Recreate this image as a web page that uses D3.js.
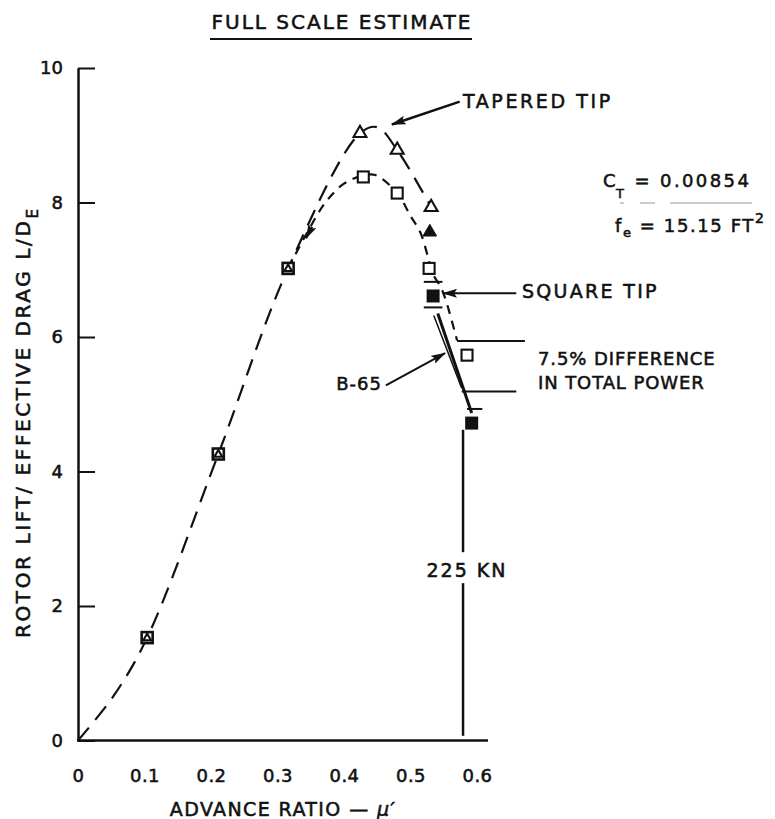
<!DOCTYPE html>
<html>
<head>
<meta charset="utf-8">
<script src="https://cdn.jsdelivr.net/npm/d3@7"></script>
<style>
  html, body { margin: 0; padding: 0; background: #fff; }
  svg { display: block; }
  text { font-family: "DejaVu Sans", sans-serif; fill: #111; stroke: #111; stroke-width: 0.55px; }
</style>
</head>
<body>
<svg id="chart" width="775" height="819"></svg>
<script>
// ---- axis ticks ----
const xTicks = [0, 0.1, 0.2, 0.3, 0.4, 0.5, 0.6];
const xTickLabels = ["0", "0.1", "0.2", "0.3", "0.4", "0.5", "0.6"];
const yTicks = [0, 2, 4, 6, 8, 10];
const yTickLabels = ["0", "2", "4", "6", "8", "10"];

// ---- measured points: [advance ratio, L/De] ----
const squareTipOpen = [[0.104, 1.53], [0.211, 4.26], [0.316, 7.02], [0.429, 8.38], [0.48, 8.14], [0.528, 7.02], [0.585, 5.73]];
const taperedTipOpen = [[0.104, 1.53], [0.211, 4.26], [0.316, 7.02], [0.424, 9.03], [0.48, 8.78], [0.531, 7.93]];
const taperedTipFilled = [[0.529, 7.56]];
const squareTipFilled = [[0.534, 6.61], [0.592, 4.72]];

// ---- faired curves ----
const taperedCurve = [[0, 0], [0.054, 0.67], [0.104, 1.53], [0.211, 4.26], [0.316, 7.02], [0.424, 9.03], [0.45, 9.12], [0.48, 8.78], [0.531, 7.93]];
const squareCurve = [[0.316, 7.02], [0.345, 7.56], [0.372, 8.0], [0.40, 8.28], [0.429, 8.4], [0.447, 8.41], [0.48, 8.14], [0.50, 7.8], [0.515, 7.55], [0.526, 7.2], [0.533, 6.95], [0.545, 6.75], [0.553, 6.55], [0.57, 5.95]];

// ---- B-65 comparison and power band ----
const b65Line = [[0.541, 6.35], [0.592, 4.87]];
const b65Inner = [[0.535, 6.32], [0.577, 5.24]];
const speedLineX = 0.579;          // 225 KN
const speedLineTop = 4.62;
const speedGap = [2.34, 2.80];
const powerBand = [{ y: 5.94, x0: 0.57, x1: 0.672 }, { y: 5.19, x0: 0.577, x1: 0.659 }];
const bandCaps = [{ y: 6.82, x0: 0.52, x1: 0.548 }, { y: 6.44, x0: 0.52, x1: 0.548 }, { y: 4.93, x0: 0.585, x1: 0.608 }];
const xAxisEnd = 0.6165;

const svg = d3.select("#chart");
const x = d3.scaleLinear().domain([0, 0.6]).range([78, 477]);
const y = d3.scaleLinear().domain([0, 10]).range([740.5, 68]);

// arrowhead marker
const defs = svg.append("defs");
defs.append("marker")
  .attr("id", "arrow").attr("markerUnits", "userSpaceOnUse")
  .attr("markerWidth", 15).attr("markerHeight", 9)
  .attr("refX", 14).attr("refY", 4.5).attr("orient", "auto")
  .append("path").attr("d", "M0,0 L15,4.5 L0,9 L3,4.5 Z").attr("fill", "#111");

// ---- axes ----
const yAxis = d3.axisLeft(y).tickValues(yTicks).tickFormat((d, i) => yTickLabels[i])
  .tickSizeInner(-17).tickSizeOuter(0).tickPadding(15);
const gy = svg.append("g").attr("transform", `translate(${x(0)},0)`).call(yAxis);
gy.select(".domain").attr("stroke", "#111").attr("stroke-width", 2.5);
gy.selectAll(".tick line").attr("stroke", "#111").attr("stroke-width", 2);
gy.selectAll(".tick text").style("font-size", "18px").attr("fill", "#111");

const xAxis = d3.axisBottom(x).tickValues(xTicks).tickFormat((d, i) => xTickLabels[i])
  .tickSize(0).tickPadding(29);
const gx = svg.append("g").attr("transform", `translate(0,${y(0)})`).call(xAxis);
gx.select(".domain").remove();
gx.selectAll(".tick text").style("font-size", "18px").style("letter-spacing", "0.5px").attr("fill", "#111");
svg.append("line")
  .attr("x1", x(0) - 1).attr("x2", x(xAxisEnd))
  .attr("y1", y(0)).attr("y2", y(0))
  .attr("stroke", "#111").attr("stroke-width", 2.5);

// ---- faired dashed curves ----
const line = d3.line().x(d => x(d[0])).y(d => y(d[1])).curve(d3.curveCatmullRom.alpha(0.5));
svg.append("path").attr("d", line(taperedCurve))
  .attr("fill", "none").attr("stroke", "#111").attr("stroke-width", 2.2)
  .attr("stroke-dasharray", "17,10");
svg.append("path").attr("d", line(squareCurve))
  .attr("fill", "none").attr("stroke", "#111").attr("stroke-width", 2.2)
  .attr("stroke-dasharray", "9,7");

// small arrow on the rising branch
svg.append("line")
  .attr("x1", x(0.352)).attr("y1", y(7.64)).attr("x2", x(0.343)).attr("y2", y(7.47))
  .attr("stroke", "#111").attr("stroke-width", 2.2).attr("marker-end", "url(#arrow)");

// ---- B-65 lines ----
svg.append("line")
  .attr("x1", x(b65Line[0][0])).attr("y1", y(b65Line[0][1]))
  .attr("x2", x(b65Line[1][0])).attr("y2", y(b65Line[1][1]))
  .attr("stroke", "#111").attr("stroke-width", 3);
svg.append("line")
  .attr("x1", x(b65Inner[0][0])).attr("y1", y(b65Inner[0][1]))
  .attr("x2", x(b65Inner[1][0])).attr("y2", y(b65Inner[1][1]))
  .attr("stroke", "#111").attr("stroke-width", 1.5);

// power band lines and caps
svg.selectAll("line.band").data(powerBand.concat(bandCaps)).join("line")
  .attr("class", "band")
  .attr("x1", d => x(d.x0)).attr("x2", d => x(d.x1))
  .attr("y1", d => y(d.y)).attr("y2", d => y(d.y))
  .attr("stroke", "#111").attr("stroke-width", 2);

// 225 KN speed line (broken around its label)
svg.append("line")
  .attr("x1", x(speedLineX)).attr("x2", x(speedLineX))
  .attr("y1", y(speedLineTop)).attr("y2", y(speedGap[1]))
  .attr("stroke", "#111").attr("stroke-width", 2.5);
svg.append("line")
  .attr("x1", x(speedLineX)).attr("x2", x(speedLineX))
  .attr("y1", y(speedGap[0])).attr("y2", y(0.07))
  .attr("stroke", "#111").attr("stroke-width", 2.5);
svg.append("text")
  .attr("x", x(speedLineX) + 4).attr("y", y(2.54) + 7)
  .attr("text-anchor", "middle")
  .style("font-size", "19px").style("letter-spacing", "2px")
  .text("225 KN");

// ---- point markers ----
const sq = 11;
const isShared = d => taperedTipOpen.some(t => t[0] === d[0] && t[1] === d[1]);
svg.selectAll("rect.sqOpen").data(squareTipOpen).join("rect")
  .attr("class", "sqOpen")
  .attr("x", d => x(d[0]) - sq / 2).attr("y", d => y(d[1]) - sq / 2)
  .attr("width", sq).attr("height", sq)
  .attr("fill", "#fff").attr("stroke", "#111").attr("stroke-width", d => isShared(d) ? 2.6 : 2.1);

const sharedWithSquare = d => squareTipOpen.some(s => s[0] === d[0] && s[1] === d[1]);
svg.selectAll("path.triOpen").data(taperedTipOpen).join("path")
  .attr("class", "triOpen")
  .attr("transform", d => `translate(${x(d[0])},${y(d[1]) + (sharedWithSquare(d) ? 0.5 : 0)})`)
  .attr("d", d => d3.symbol().type(d3.symbolTriangle).size(sharedWithSquare(d) ? 26 : 72)())
  .attr("fill", "#fff").attr("stroke", "#111").attr("stroke-width", 2.1);

svg.selectAll("path.triFilled").data(taperedTipFilled).join("path")
  .attr("class", "triFilled")
  .attr("transform", d => `translate(${x(d[0])},${y(d[1])})`)
  .attr("d", d3.symbol().type(d3.symbolTriangle).size(80)())
  .attr("fill", "#111").attr("stroke", "#111").attr("stroke-width", 1);

svg.selectAll("rect.sqFilled").data(squareTipFilled).join("rect")
  .attr("class", "sqFilled")
  .attr("x", d => x(d[0]) - 6.5).attr("y", d => y(d[1]) - 6.5)
  .attr("width", 13).attr("height", 13)
  .attr("fill", "#111");

// ---- annotations ----
// TAPERED TIP
svg.append("line")
  .attr("x1", x(0.574)).attr("y1", y(9.5)).attr("x2", x(0.472)).attr("y2", y(9.16))
  .attr("stroke", "#111").attr("stroke-width", 2.5).attr("marker-end", "url(#arrow)");
svg.append("text").attr("x", 463).attr("y", 108)
  .style("font-size", "19px").style("letter-spacing", "2.6px").text("TAPERED TIP");

// SQUARE TIP
svg.append("line")
  .attr("x1", x(0.659)).attr("y1", y(6.65)).attr("x2", x(0.549)).attr("y2", y(6.65))
  .attr("stroke", "#111").attr("stroke-width", 2).attr("marker-end", "url(#arrow)");
svg.append("text").attr("x", 522).attr("y", 298)
  .style("font-size", "19px").style("letter-spacing", "2.3px").text("SQUARE TIP");

// B-65
svg.append("line")
  .attr("x1", x(0.463)).attr("y1", y(5.28)).attr("x2", x(0.552)).attr("y2", y(5.76))
  .attr("stroke", "#111").attr("stroke-width", 2).attr("marker-end", "url(#arrow)");
svg.append("text").attr("x", 382).attr("y", 390).attr("text-anchor", "end")
  .style("font-size", "18px").style("letter-spacing", "1px").text("B-65");

// power difference note
svg.append("text").attr("x", 538).attr("y", 365)
  .style("font-size", "18px").style("letter-spacing", "0.9px").text("7.5% DIFFERENCE");
svg.append("text").attr("x", 538).attr("y", 389)
  .style("font-size", "18px").style("letter-spacing", "0.9px").text("IN TOTAL POWER");

// thrust coefficient and equivalent flat-plate area
const ct = svg.append("text").attr("x", 603).attr("y", 187)
  .style("font-size", "18px").style("letter-spacing", "2.4px");
ct.append("tspan").text("C");
ct.append("tspan").attr("dx", -2).attr("dy", 11).style("font-size", "13px").text("T");
ct.append("tspan").attr("dy", -11).text(" = 0.00854");

svg.append("line")
  .attr("x1", 620).attr("x2", 752).attr("y1", 203).attr("y2", 203)
  .attr("stroke", "#999").attr("stroke-width", 1.2)
  .attr("stroke-dasharray", "4,16,15,15,82,0");

const fe = svg.append("text").attr("x", 615).attr("y", 232)
  .style("font-size", "18px").style("letter-spacing", "1.6px");
fe.append("tspan").text("f");
fe.append("tspan").attr("dy", 5).style("font-size", "13px").text("e");
fe.append("tspan").attr("dy", -5).text(" = 15.15 FT");
fe.append("tspan").attr("dy", -9).style("font-size", "14px").text("2");

// ---- titles ----
svg.append("text").attr("x", 342).attr("y", 29).attr("text-anchor", "middle")
  .style("font-size", "20px").style("letter-spacing", "2px").text("FULL SCALE ESTIMATE");
svg.append("line").attr("x1", 210).attr("x2", 472).attr("y1", 39).attr("y2", 39)
  .attr("stroke", "#111").attr("stroke-width", 2);

const xt = svg.append("text").attr("x", 283).attr("y", 816).attr("text-anchor", "middle")
  .style("font-size", "19px").style("letter-spacing", "1.4px");
xt.append("tspan").text("ADVANCE RATIO \u2014 ");
xt.append("tspan").style("font-style", "italic").text("\u03bc\u2032");

const yt = svg.append("text").attr("transform", "translate(30,638) rotate(-90)")
  .style("font-size", "20px").style("letter-spacing", "2.6px");
yt.append("tspan").text("ROTOR LIFT/ EFFECTIVE DRAG");
yt.append("tspan").attr("dx", 9).text("L/D");
yt.append("tspan").attr("dy", 8).style("font-size", "15px").text("E");
</script>
</body>
</html>
